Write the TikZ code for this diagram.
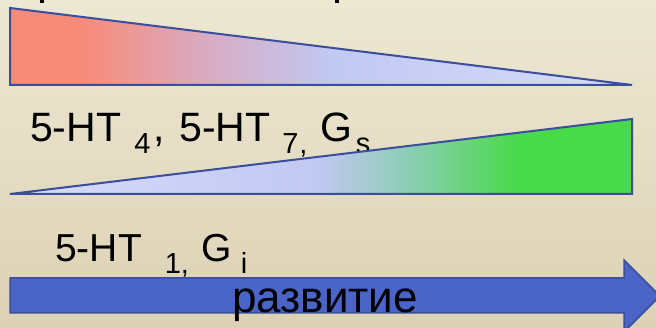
\documentclass[tikz,border=0pt]{standalone}
\usepackage{fontspec}
\setmainfont{Liberation Sans}
\definecolor{bgtop}{RGB}{237,232,211}
\definecolor{bgbot}{RGB}{220,209,180}
\definecolor{edge}{RGB}{58,78,156}
\definecolor{salmon}{RGB}{247,139,122}
\definecolor{pinkl}{RGB}{216,172,196}
\definecolor{lav}{RGB}{193,200,242}
\definecolor{lavl}{RGB}{216,221,250}
\definecolor{teal}{RGB}{140,205,180}
\definecolor{grn}{RGB}{72,218,72}
\definecolor{arrowfill}{RGB}{74,100,200}
\pgfdeclarehorizontalshading{falling}{100bp}{color(0bp)=(salmon); color(31bp)=(salmon); color(41bp)=(pinkl); color(50.7bp)=(lav); color(75bp)=(lavl); color(100bp)=(lavl)}
\pgfdeclarehorizontalshading{rising}{100bp}{color(0bp)=(lavl); color(25bp)=(lavl); color(49.8bp)=(lav); color(57bp)=(teal); color(66bp)=(grn); color(100bp)=(grn)}
\newcommand{\sbs}[1]{\raisebox{-12pt}{\fontsize{29}{29}\selectfont #1}}
\begin{document}
\begin{tikzpicture}[x=1pt,y=-1pt,
  wedge/.style={draw=edge,line width=2pt,line join=miter},
  lab/.style={anchor=base west,inner sep=0pt,font=\fontsize{39}{39}\selectfont,text=black},
  bigarrow/.style={draw=edge,line width=1.5pt,fill=arrowfill}]
\useasboundingbox (0,0) rectangle (656,328);
\shade[top color=bgtop,bottom color=bgbot] (0,0) rectangle (656,328);
% cut-off descenders at the top edge
\fill[black] (40,0) rectangle (44,2.6);
\fill[black] (335,0) rectangle (339,2.6);
% falling wedge
\coordinate (a1) at (10,8);
\coordinate (a2) at (10,85);
\coordinate (a3) at (632,85);
\shade[shading=falling] (a1) -- (a3) -- (a2) -- cycle;
\draw[wedge] (a1) -- (a3) -- (a2) -- cycle;
% label 1
\node[lab,font=\fontsize{41}{41}\selectfont] (l1) at (30,142)
  {5-HT\hspace{13pt}\sbs{4}\hspace{3pt}, \hspace{3pt}5-HT\hspace{12pt}\sbs{7\hspace{1pt},}\hspace{2pt} G\hspace{3pt}\sbs{s}};
% rising wedge
\coordinate (b1) at (10,194);
\coordinate (b2) at (632,119);
\coordinate (b3) at (632,194);
\shade[shading=rising] (b1) -- (b2) -- (b3) -- cycle;
\draw[wedge] (b1) -- (b2) -- (b3) -- cycle;
% label 2
\node[lab] (l2) at (55,262) {5-HT\hspace{23pt}\sbs{1,}\hspace{12pt}G\hspace{9.5pt}\sbs{i}};
% arrow
\draw[bigarrow] (10,278) -- (624,278) -- (624,260) -- (660,296) -- (624,332) -- (624,313) -- (10,313) -- cycle;
\node[lab,font=\fontsize{44}{44}\selectfont] (dev) at (232,313) {развитие};
\end{tikzpicture}
\end{document}
